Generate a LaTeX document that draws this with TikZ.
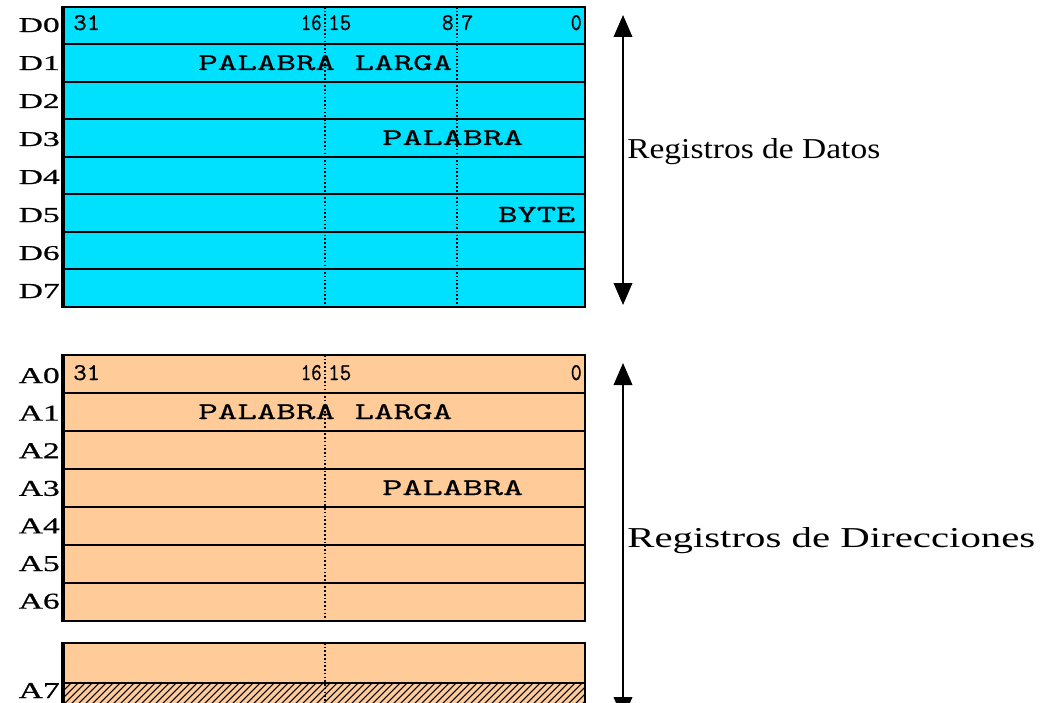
\documentclass[tikz,border=0pt]{standalone}
\usepackage{fontspec}
\setmainfont{Liberation Serif}
\newfontfamily\regmono[FakeBold=0.5]{Latin Modern Mono}
\newfontfamily\reglab[FakeBold=0.6]{Liberation Serif}
\usetikzlibrary{arrows.meta}
\newlength{\upx}\setlength{\upx}{0.75pt}
\newcommand{\fitbox}[3]{\resizebox{#1\upx}{#2\upx}{#3}}
\definecolor{regcyan}{RGB}{0,224,255}
\definecolor{regpeach}{RGB}{255,204,153}
\begin{document}
\begin{tikzpicture}[x=0.75pt,y=-0.75pt,
  border/.style={line width=1.5pt,line join=miter},
  leftbar/.style={line width=2.4pt},
  rowline/.style={line width=1.5pt},
  dotline/.style={line width=1.1pt,dash pattern=on 1.2pt off 1.6pt},
  hatch/.style={line width=0.8pt},
  tl/.style={inner sep=0pt,anchor=base west},
  tr/.style={inner sep=0pt,anchor=base east},
  reglbl/.style={inner sep=0pt,anchor=base east},
  bigarrow/.style={line width=1.1pt,{Triangle[width=14pt,length=16.5pt]}-{Triangle[width=14pt,length=16.5pt]}}
]
\useasboundingbox (0,0) rectangle (1044,702);
\clip (0,0) rectangle (1044,702);

% ---------- Data registers ----------
\fill[regcyan] (63,7) rectangle (585,307);
\foreach \yy in {44,82,119,157,194,232,269}
  \draw[rowline] (63,\yy) -- (585,\yy);
\draw[dotline] (325,7) -- (325,307);
\draw[dotline] (457,7) -- (457,307);
\draw[border] (63,7) rectangle (585,307);
\draw[leftbar] (63,6) -- (63,308);

\foreach \i in {0,...,7}
  \node[reglbl] (d\i) at (60,{32+38*\i}) {\fitbox{41}{14}{\reglab D\i}};

\node[tl] (d31) at (73,30) {\fitbox{27}{15}{\regmono 31}};
\node[tr] (d16) at (322,30) {\fitbox{21}{15}{\regmono 16}};
\node[tl] (d15) at (328,30) {\fitbox{23}{15}{\regmono 15}};
\node[tr] (d8) at (454,30) {\fitbox{12}{15}{\regmono 8}};
\node[tl] (d7b) at (461,30) {\fitbox{12}{15}{\regmono 7}};
\node[tr] (d0b) at (582,30) {\fitbox{11}{15}{\regmono 0}};

\node[tl] (dlarga) at (198,70) {\fitbox{254}{15}{\regmono PALABRA LARGA}};
\node[tl] (dpal) at (382,145) {\fitbox{141}{15}{\regmono PALABRA}};
\node[tl] (dbyte) at (498,222) {\fitbox{77}{15}{\regmono BYTE}};

\coordinate (dtop) at (623,15);
\coordinate (dbot) at (623,305);
\draw[bigarrow] (dtop) -- (dbot);
\node[tl] (datos) at (627,159) {\fitbox{253}{20}{Registros de Datos}};

% ---------- Address registers ----------
\fill[regpeach] (63,355) rectangle (585,621);
\foreach \yy in {393,431,469,507,545,583}
  \draw[rowline] (63,\yy) -- (585,\yy);
\draw[dotline] (325,355) -- (325,621);
\draw[border] (63,355) rectangle (585,621);
\draw[leftbar] (63,354) -- (63,622);

\fill[regpeach] (63,643) rectangle (585,720);
\begin{scope}
  \clip (63,683) rectangle (585,720);
  \foreach \xx in {20,27,...,600}
    \draw[hatch] (\xx,720) -- ({\xx+37},683);
\end{scope}
\draw[dotline] (325,643) -- (325,720);
\draw[rowline] (63,683) -- (585,683);
\draw[border] (63,720) -- (63,643) -- (585,643) -- (585,720);
\draw[leftbar] (63,642) -- (63,720);

\foreach \i in {0,...,6}
  \node[reglbl] (a\i) at (60,{383+37.6*\i}) {\fitbox{41}{15}{\reglab A\i}};
\node[reglbl] (a7) at (60,698) {\fitbox{41}{15}{\reglab A7}};

\node[tl] (a31) at (73,380) {\fitbox{27}{15}{\regmono 31}};
\node[tr] (a16) at (322,380) {\fitbox{21}{15}{\regmono 16}};
\node[tl] (a15) at (328,380) {\fitbox{23}{15}{\regmono 15}};
\node[tr] (a0b) at (582,380) {\fitbox{11}{15}{\regmono 0}};

\node[tl] (alarga) at (198,419) {\fitbox{254}{15}{\regmono PALABRA LARGA}};
\node[tl] (apal) at (382,495) {\fitbox{141}{15}{\regmono PALABRA}};

\coordinate (atop) at (623,363);
\coordinate (abot) at (623,719);
\draw[bigarrow] (atop) -- (abot);
\node[tl] (direc) at (627,547) {\fitbox{408}{20}{Registros de Direcciones}};
\end{tikzpicture}
\end{document}
